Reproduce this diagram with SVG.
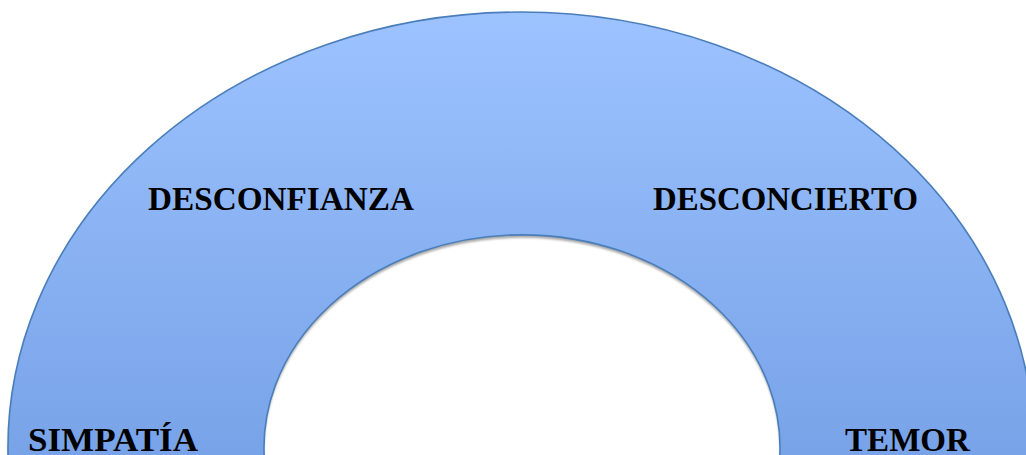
<svg xmlns="http://www.w3.org/2000/svg" width="1026" height="455" viewBox="0 0 1026 455">
  <defs>
    <linearGradient id="fillGrad" gradientUnits="userSpaceOnUse" x1="0" y1="12" x2="0" y2="455">
      <stop offset="0" stop-color="#9DC3FF"/>
      <stop offset="1" stop-color="#78A3E8"/>
    </linearGradient>
    <filter id="soft" x="-5%" y="-5%" width="110%" height="110%">
      <feGaussianBlur stdDeviation="0.8"/>
    </filter>
    <path id="archShape" d="M 8.65 470 A 513 436 0 1 1 1033.35 470 L 778.6 470 A 258 213 0 1 0 265.4 470 Z"/>
  </defs>
  <style>
    .label { font-family: "Liberation Serif", "DejaVu Serif", serif; font-weight: bold; font-size: 34px; fill: #000000; }
  </style>
  <rect width="1026" height="455" fill="#FFFFFF"/>
  <g id="arch">
    <use href="#archShape" transform="translate(0,3)" fill="#8c8c8c" fill-opacity="0.75" filter="url(#soft)"/>
    <use href="#archShape" fill="url(#fillGrad)" stroke="#4A7EBB" stroke-width="1.6"/>
  </g>
  <g id="desconfianza">
    <text class="label" x="148" y="210" textLength="266" lengthAdjust="spacingAndGlyphs">DESCONFIANZA</text>
  </g>
  <g id="desconcierto">
    <text class="label" x="653" y="210" textLength="265" lengthAdjust="spacingAndGlyphs">DESCONCIERTO</text>
  </g>
  <g id="simpatia">
    <text class="label" x="28" y="451" textLength="170" lengthAdjust="spacingAndGlyphs">SIMPATÍA</text>
  </g>
  <g id="temor">
    <text class="label" x="845" y="451" textLength="125" lengthAdjust="spacingAndGlyphs">TEMOR</text>
  </g>
  <g id="connectors"/>
</svg>
